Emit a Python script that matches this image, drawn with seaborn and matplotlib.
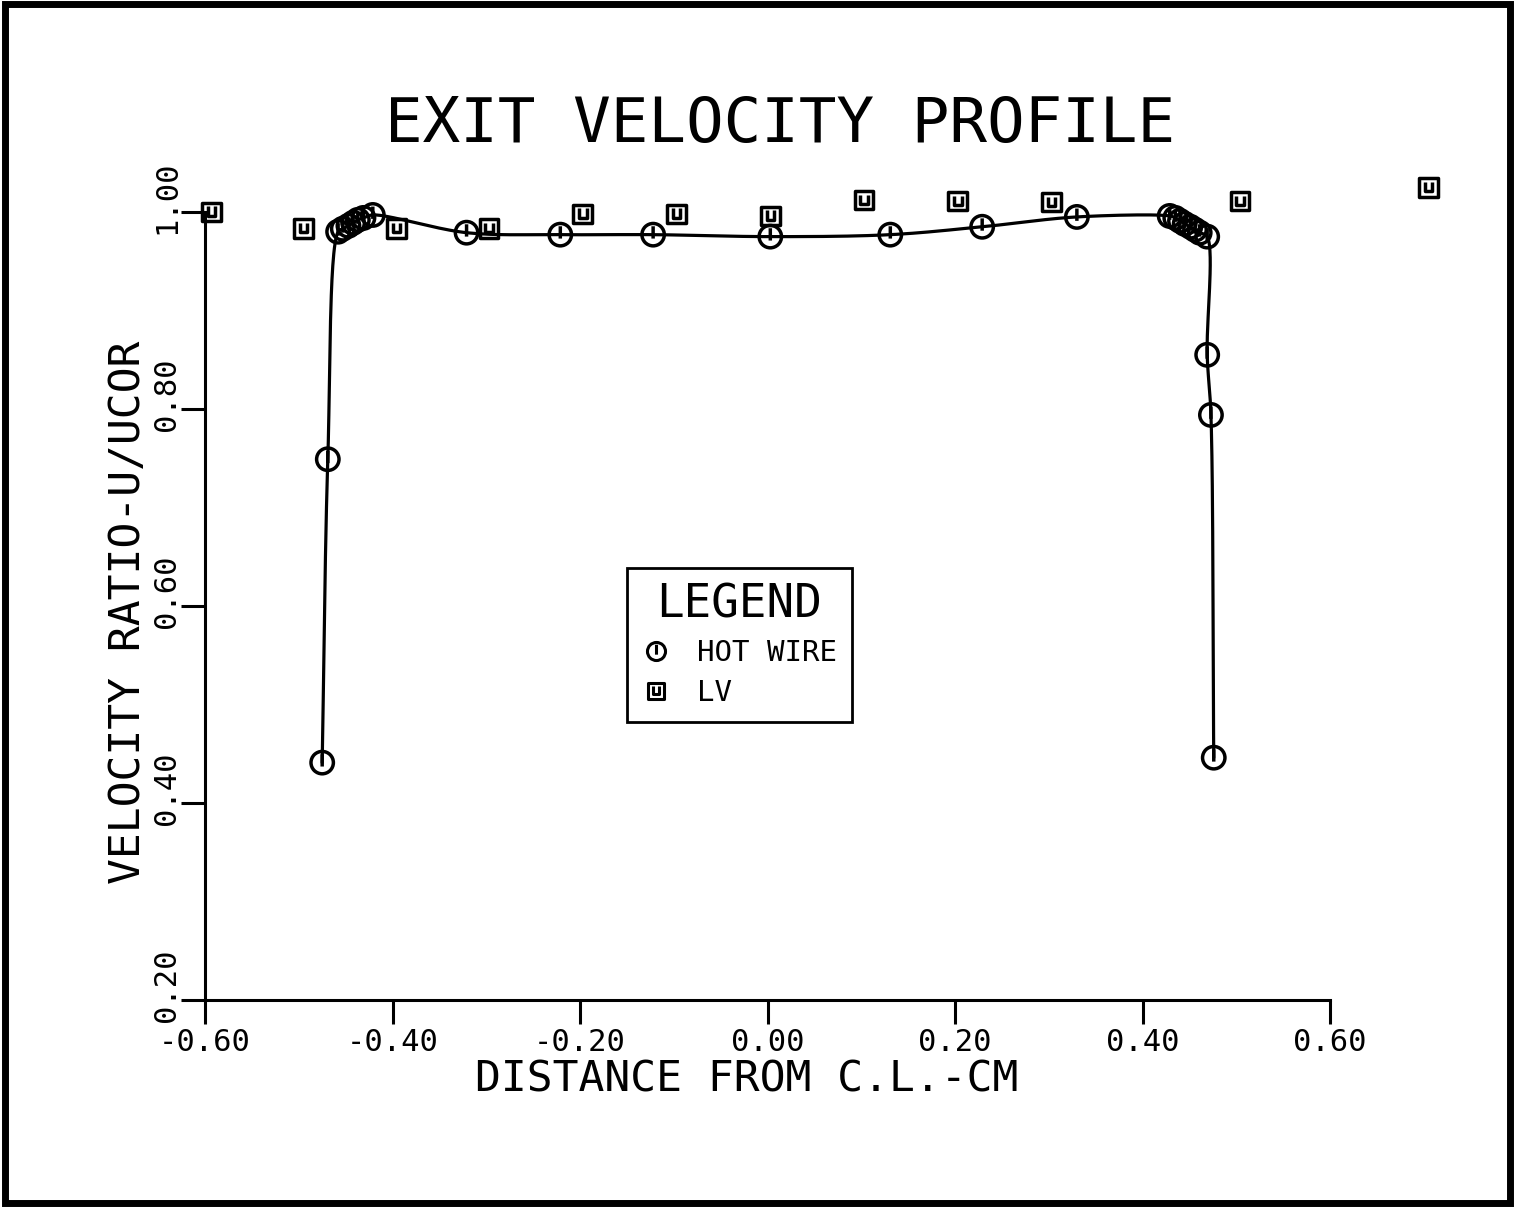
import numpy as np
import matplotlib
matplotlib.use("Agg")
import matplotlib.pyplot as plt
import seaborn as sns
from matplotlib.path import Path
from matplotlib.patches import Rectangle
from matplotlib.lines import Line2D
import matplotlib.transforms as mtransforms

# hot wire traverse (ordered along the profile, left wall -> right wall)
hw_x = [-0.475, -0.469, -0.458, -0.453, -0.447, -0.442, -0.437, -0.431, -0.421,
        -0.321, -0.221, -0.122, 0.003, 0.131, 0.229, 0.330,
        0.429, 0.435, 0.440, 0.445, 0.451, 0.456, 0.461, 0.469,
        0.469, 0.473, 0.476]
hw_y = [0.441, 0.749, 0.980, 0.983, 0.986, 0.989, 0.992, 0.994, 0.997,
        0.979, 0.977, 0.977, 0.975, 0.977, 0.985, 0.995,
        0.996, 0.994, 0.991, 0.988, 0.985, 0.982, 0.979, 0.975,
        0.855, 0.794, 0.446]

# laser velocimeter points
lv_x = [-0.593, -0.495, -0.396, -0.297, -0.197, -0.097, 0.003, 0.103, 0.203, 0.303, 0.504, 0.705]
lv_y = [1.000, 0.983, 0.983, 0.983, 0.998, 0.998, 0.996, 1.012, 1.011, 1.010, 1.011, 1.025]

x_ticks = [-0.6, -0.4, -0.2, 0.0, 0.2, 0.4, 0.6]
y_ticks = [0.2, 0.4, 0.6, 0.8, 1.0]

SX, SY = 937.5, 985.0  # data -> pixel scale, used for the spline knots


def smooth_curve(xs, ys, n=30, alpha=0.5):
    # centripetal catmull-rom spline through the measured points
    p = np.column_stack([np.asarray(xs) * SX, np.asarray(ys) * SY])
    p = np.vstack([2 * p[0] - p[1], p, 2 * p[-1] - p[-2]])
    out = []
    for i in range(1, len(p) - 2):
        p0, p1, p2, p3 = p[i - 1], p[i], p[i + 1], p[i + 2]
        t0 = 0.0
        t1 = t0 + max(np.linalg.norm(p1 - p0), 1e-6) ** alpha
        t2 = t1 + max(np.linalg.norm(p2 - p1), 1e-6) ** alpha
        t3 = t2 + max(np.linalg.norm(p3 - p2), 1e-6) ** alpha
        t = np.linspace(t1, t2, n, endpoint=False)[:, None]
        a1 = (t1 - t) / (t1 - t0) * p0 + (t - t0) / (t1 - t0) * p1
        a2 = (t2 - t) / (t2 - t1) * p1 + (t - t1) / (t2 - t1) * p2
        a3 = (t3 - t) / (t3 - t2) * p2 + (t - t2) / (t3 - t2) * p3
        b1 = (t2 - t) / (t2 - t0) * a1 + (t - t0) / (t2 - t0) * a2
        b2 = (t3 - t) / (t3 - t1) * a2 + (t - t1) / (t3 - t1) * a3
        out.append((t2 - t) / (t2 - t1) * b1 + (t - t1) / (t2 - t1) * b2)
    out.append(p[-2][None, :])
    out = np.vstack(out)
    return out[:, 0] / SX, out[:, 1] / SY


# plotter-style symbols
circ = Path.unit_circle()
stem = Path([(0, 0.75), (0, -0.35)], [Path.MOVETO, Path.LINETO])
hw_marker = Path.make_compound_path(circ, stem)
sq = Path([(-1, -1), (1, -1), (1, 1), (-1, 1), (-1, -1)],
          [Path.MOVETO, Path.LINETO, Path.LINETO, Path.LINETO, Path.CLOSEPOLY])
cup = Path([(-0.4, 0.6), (-0.4, -0.4), (0.4, -0.4), (0.4, 0.6)],
           [Path.MOVETO, Path.LINETO, Path.LINETO, Path.LINETO])
lv_marker = Path.make_compound_path(sq, cup)

sns.set_theme(style="white")
plt.rcParams['font.family'] = ['DejaVu Sans Mono', 'DejaVu Sans']
plt.rcParams['text.color'] = 'black'
plt.rcParams['xtick.color'] = 'black'
plt.rcParams['ytick.color'] = 'black'

fig = plt.figure(figsize=(15.15, 12.08), dpi=100)
ax = fig.add_axes([205 / 1515, 1 - 1000 / 1208, 1125 / 1515, 788 / 1208])

cx, cy = smooth_curve(hw_x, hw_y)
sns.lineplot(x=cx, y=cy, sort=False, estimator=None, color='black', linewidth=2.3, ax=ax)
sns.scatterplot(x=hw_x, y=hw_y, marker=hw_marker, s=260, facecolor='none',
                edgecolor='black', linewidth=2.5, ax=ax, zorder=3, clip_on=False)
sns.scatterplot(x=lv_x, y=lv_y, marker=lv_marker, s=180, facecolor='none',
                edgecolor='black', linewidth=2.5, ax=ax, zorder=3, clip_on=False)

ax.set_xlim(-0.6, 0.6)
ax.set_ylim(0.2, 1.0)
ax.set_xticks(x_ticks)
ax.set_yticks(y_ticks)
ax.set_xticklabels([f"{v:.2f}" for v in x_ticks], fontsize=22)
ax.set_yticklabels([f"{v:.2f}" for v in y_ticks], fontsize=22, rotation=90, va='center')
ax.tick_params(direction='out', length=17, width=2.2, color='black', bottom=True, left=True)
ax.tick_params(axis='x', pad=3)
ax.tick_params(axis='y', pad=0)
offset = mtransforms.ScaledTranslation(0, 15 / 100, fig.dpi_scale_trans)
for lab in ax.get_yticklabels():
    lab.set_transform(lab.get_transform() + offset)
for side in ['top', 'right']:
    ax.spines[side].set_visible(False)
for side in ['left', 'bottom']:
    ax.spines[side].set_color('black')
    ax.spines[side].set_linewidth(2.2)
ax.grid(False)

fig.text(780 / 1515, 1 - 125 / 1208, "EXIT VELOCITY PROFILE", fontsize=45,
         ha='center', va='center')
fig.text(747 / 1515, 1 - 1080 / 1208, "DISTANCE FROM C.L.-CM", fontsize=31,
         ha='center', va='center')
fig.text(128 / 1515, 1 - 612 / 1208, "VELOCITY RATIO-U/UCOR", fontsize=31,
         ha='center', va='center', rotation=90)

handles = [
    Line2D([], [], linestyle='none', marker=hw_marker, markersize=13,
           markerfacecolor='none', markeredgecolor='black', markeredgewidth=2.2),
    Line2D([], [], linestyle='none', marker=lv_marker, markersize=11,
           markerfacecolor='none', markeredgecolor='black', markeredgewidth=2.2),
]
leg = ax.legend(handles, ["HOT WIRE", "LV"], title="LEGEND", fontsize=21, title_fontsize=33,
                loc='upper left', bbox_to_anchor=(627 / 1515, 1 - 568 / 1208),
                bbox_transform=fig.transFigure, borderaxespad=0, frameon=True, fancybox=False,
                edgecolor='black', framealpha=1, handlelength=1.0, handletextpad=0.9,
                borderpad=0.5, labelspacing=0.4)
leg.get_frame().set_linewidth(2)

fig.patches.append(Rectangle((0.003, 0.004), 0.994, 0.993, transform=fig.transFigure,
                             fill=False, edgecolor='black', linewidth=5))

fig.savefig("out.png", dpi=100)
